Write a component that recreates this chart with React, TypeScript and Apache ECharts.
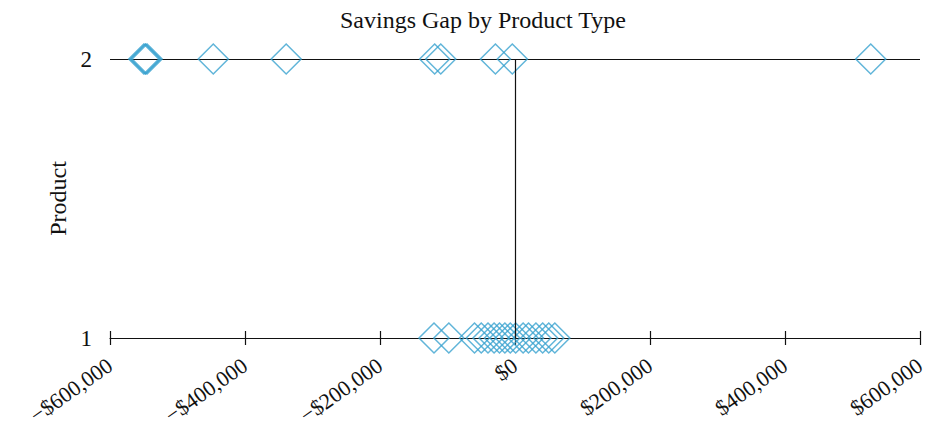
import React, { useEffect, useRef } from "react";
import * as echarts from "echarts";

const TITLE = "Savings Gap by Product Type";
const Y_NAME = "Product";
const X_TICKS = [-600000, -400000, -200000, 0, 200000, 400000, 600000];
const Y_TICKS = [1, 2];

// Product 1 savings gaps
const product1Gaps = [
  -120000, -98000, -60000, -50000, -40000, -31000, -23000, -15000, -7000,
  1000, 12000, 20000, 31000, 41000, 50000, 59000,
];
// Product 2 savings gaps
const product2Gaps = [
  -550000, -548000, -547000, -545000, -447000, -339000, -119000, -110000,
  -29000, -4000, 527000,
];

const fmt = (v: number) => {
  const s = "$" + Math.abs(v).toLocaleString("en-US");
  return v < 0 ? "\u2212" + s : s;
};

export default function App() {
  const ref = useRef<HTMLDivElement>(null);
  useEffect(() => {
    if (!ref.current) return;
    const chart = echarts.init(ref.current, null, { renderer: "svg", width: 927, height: 431 });
    const font = "Liberation Serif";
    const data = [
      ...product1Gaps.map((v) => [v, 1]),
      ...product2Gaps.map((v) => [v, 2]),
    ];
    const xMin = X_TICKS[0];
    const xMax = X_TICKS[X_TICKS.length - 1];
    const xInterval = X_TICKS[1] - X_TICKS[0];
    chart.setOption({
      animation: false,
      backgroundColor: "#ffffff",
      textStyle: { fontFamily: font },
      title: {
        text: TITLE,
        left: 335,
        top: 3,
        textStyle: { fontFamily: font, fontSize: 24, fontWeight: "normal", color: "#111" },
      },
      grid: {
        left: 110,
        right: 7,
        top: 59,
        bottom: 93,
        containLabel: false,
        outerBoundsMode: "none",
      },
      xAxis: [
        {
          type: "value",
          min: xMin,
          max: xMax,
          interval: xInterval,
          position: "bottom",
          axisLine: { show: true, onZero: false, lineStyle: { color: "#111", width: 1.2 } },
          axisTick: { show: true, length: 7, lineStyle: { color: "#111", width: 1.2 } },
          axisLabel: {
            show: true,
            rotate: 35,
            margin: 25,
            fontFamily: font,
            fontSize: 22,
            color: "#111",
            formatter: (v: number) => fmt(v),
            showMaxLabel: true,
            showMinLabel: true,
          },
          splitLine: { show: false },
        },
        {
          type: "value",
          min: xMin,
          max: xMax,
          interval: xInterval,
          position: "top",
          offset: -279,
          axisLine: { show: false },
          axisTick: { show: true, length: 7, lineStyle: { color: "#111", width: 1.2 } },
          axisLabel: { show: false },
          splitLine: { show: false },
        },
      ],
      yAxis: {
        type: "value",
        min: Y_TICKS[0],
        max: Y_TICKS[Y_TICKS.length - 1],
        interval: 1,
        name: Y_NAME,
        nameLocation: "middle",
        nameGap: 24,
        nameTextStyle: { fontFamily: font, fontSize: 24, color: "#111" },
        axisLine: { show: false },
        axisTick: { show: false },
        axisLabel: { fontFamily: font, fontSize: 23, color: "#111", margin: 18 },
        splitLine: { show: true, lineStyle: { color: "#111", width: 1.2 } },
      },
      series: [
        {
          type: "scatter",
          xAxisIndex: 0,
          data,
          symbol: "diamond",
          symbolSize: 30,
          clip: false,
          itemStyle: { color: "rgba(0,0,0,0)", borderColor: "#3aa2d0", borderWidth: 1.5 },
          markLine: {
            silent: true,
            symbol: "none",
            label: { show: false },
            lineStyle: { color: "#111", width: 1.2, type: "solid" },
            data: [{ xAxis: 0 }],
          },
        },
      ],
    });
    return () => chart.dispose();
  }, []);
  return (
    <div
      ref={ref}
      style={{ position: "fixed", left: 0, top: 0, width: 927, height: 431 }}
    />
  );
}
